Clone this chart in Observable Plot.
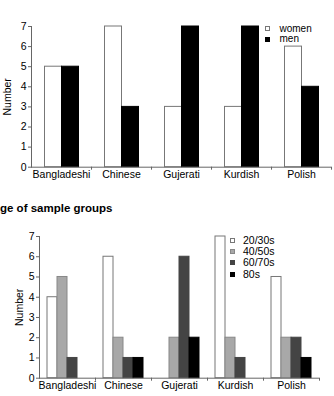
<!DOCTYPE html>
<html>
<head>
<meta charset="utf-8">
<script src="https://cdn.jsdelivr.net/npm/d3@7"></script>
<script src="https://cdn.jsdelivr.net/npm/@observablehq/plot@0.6"></script>
<style>
  body { margin: 0; background: #fff; font-family: "Liberation Sans", Arial, sans-serif; }
  #page { position: relative; width: 334px; height: 396px; overflow: hidden; background: #fff; }
  .title { position: absolute; font-weight: bold; font-size: 11.5px; line-height: 11px; white-space: nowrap; color: #000; }
  .panel { position: absolute; left: 0; }
  .legend { position: absolute; color: #000; }
  .legend .row { display: flex; align-items: center; }
  .legend .sw { width: 5px; height: 5px; box-sizing: border-box; flex: none; }
</style>
</head>
<body>
<div id="page">
  <div class="title" style="left:-7.3px;top:-6.8px">Gender of sample groups</div>
  <div class="panel" id="gender" style="top:0px"></div>
  <div class="legend" id="genderLegend" style="left:265px;top:23.5px;font-size:10px"></div>
  <div class="title" style="left:-8.3px;top:202.5px">Age of sample groups</div>
  <div class="panel" id="age" style="top:215px"></div>
  <div class="legend" id="ageLegend" style="left:230px;top:234.5px;font-size:10.5px"></div>
</div>
<script>
// Ethnic groups shown along the x axis
const groups = ["Bangladeshi", "Chinese", "Gujerati", "Kurdish", "Polish"];

// Gender breakdown per group
const genderSeries = ["women", "men"];
const women = [5, 7, 3, 3, 6];
const men = [5, 3, 7, 7, 4];
const genderFill = ["#ffffff", "#000000"];
const genderStroke = ["#777777", "#000000"];

// Age breakdown per group
const ageSeries = ["20/30s", "40/50s", "60/70s", "80s"];
const age2030 = [4, 6, 0, 7, 5];
const age4050 = [5, 2, 2, 2, 2];
const age6070 = [1, 1, 6, 1, 2];
const age80 = [0, 1, 2, 0, 1];
const ageFill = ["#ffffff", "#a8a8a8", "#444444", "#000000"];
const ageStroke = ["#777777", "#888888", "#444444", "#000000"];

const yTicks = [0, 1, 2, 3, 4, 5, 6, 7];

function groupedBars({series, values, fills, strokes, width, height, mt, mr, mb, ml, outer, labelOffset, textPad}) {
  const rows = [];
  groups.forEach((g, i) => series.forEach((s, j) => {
    const v = values[j][i];
    if (v > 0) rows.push({group: g, series: s, value: v, stroke: strokes[j]});
  }));
  const band = (width - ml - mr) / groups.length;
  return Plot.plot({
    width, height,
    marginTop: mt, marginRight: mr, marginBottom: mb, marginLeft: ml,
    style: {fontFamily: "'Liberation Sans', Arial, sans-serif", fontSize: "10.5px", color: "#000", background: "#fff"},
    fx: {domain: groups, padding: 0},
    x: {domain: series, paddingInner: 0, paddingOuter: outer, axis: null},
    y: {domain: [0, 7]},
    color: {domain: series, range: fills},
    marks: [
      Plot.barY(rows, {fx: "group", x: "series", y: "value", fill: "series", stroke: "stroke", inset: 0}),
      Plot.ruleY([0], {stroke: "#666"}),
      Plot.frame({anchor: "left", facetAnchor: "left", stroke: "#666"}),
      Plot.axisY({ticks: yTicks, tickFormat: "d", tickSize: 3, tickPadding: 2, stroke: "#666",
        label: "Number", labelAnchor: "center", labelArrow: false, labelOffset}),
      Plot.axisFx({anchor: "bottom", tickSize: 0, tickPadding: textPad, label: null}),
      Plot.axisFx({anchor: "bottom", tickSize: 3, dx: band / 2, tickFormat: () => "", label: null, stroke: "#666"})
    ]
  });
}

document.getElementById("gender").append(groupedBars({
  series: genderSeries, values: [women, men], fills: genderFill, strokes: genderStroke,
  width: 334, height: 195, mt: 26, mr: 3.3, mb: 28.3, ml: 30.5, outer: 0.76, labelOffset: 28, textPad: 3
}));

document.getElementById("age").append(groupedBars({
  series: ageSeries, values: [age2030, age4050, age6070, age80], fills: ageFill, strokes: ageStroke,
  width: 334, height: 181, mt: 21, mr: 15, mb: 18.3, ml: 39, outer: 0.8, labelOffset: 24, textPad: 3.5
}));

function legend(id, series, fills, strokes, rowH, gap) {
  const el = document.getElementById(id);
  series.forEach((s, j) => {
    const row = document.createElement("div");
    row.className = "row";
    row.style.height = rowH + "px";
    row.style.lineHeight = rowH + "px";
    const sw = document.createElement("div");
    sw.className = "sw";
    sw.style.background = fills[j];
    sw.style.border = "1px solid " + strokes[j];
    sw.style.marginRight = gap + "px";
    const t = document.createElement("span");
    t.textContent = s;
    row.append(sw, t);
    el.append(row);
  });
}
legend("genderLegend", genderSeries, genderFill, genderStroke, 10.5, 9.5);
legend("ageLegend", ageSeries, ageFill, ageStroke, 11.4, 8);
</script>
</body>
</html>
